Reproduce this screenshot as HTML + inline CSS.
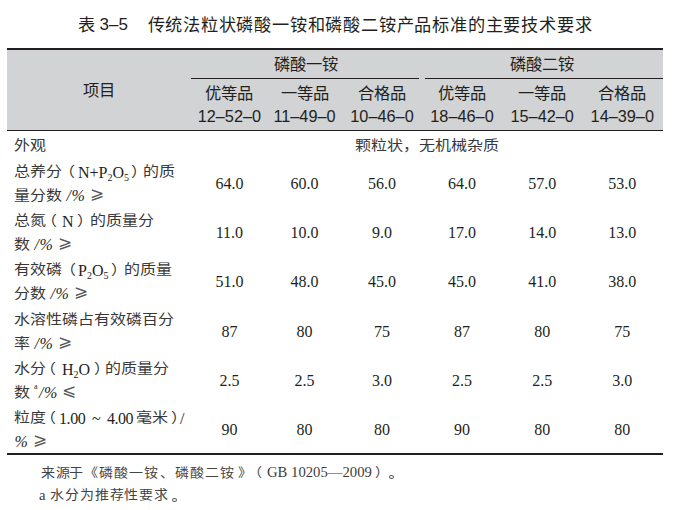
<!DOCTYPE html>
<html lang="zh-CN">
<head>
<meta charset="utf-8">
<style>
html,body{margin:0;padding:0;background:#fff;}
body{width:678px;height:510px;position:relative;overflow:hidden;color:#231f20;font-family:"Liberation Serif",serif;}
.a{position:absolute;white-space:nowrap;line-height:20px;}
.sans{font-family:"Liberation Sans",sans-serif;}
.c{text-align:center;}
.rule{position:absolute;background:#231f20;}
.hd{font-size:16.3px;}
.bd{font-size:16px;}
.it{font-style:italic;position:relative;top:-1px;left:0.5px;letter-spacing:0.5px;}
.k{color:#383838;display:inline-block;transform:translateY(-1px) scaleY(0.87);transform-origin:50% 30%;}
.ge{color:#555;font-size:17px;position:relative;top:-3px;margin-left:1px;}
.po{position:relative;left:-3.5px;}
.pc{position:relative;left:1.5px;margin-right:-2px;}
sub{font-size:10px;vertical-align:-3px;line-height:0;}
sup{font-size:8px;vertical-align:10px;line-height:0;margin-right:1px;}
.fn{color:#444;font-size:14px;letter-spacing:0.9px;transform:scaleY(0.9);transform-origin:0 60%;}
.fl{color:#3c3c3c;font-size:14.7px;}
.dot{position:absolute;width:3.4px;height:2.4px;border:0.8px solid #555;border-radius:50%;}
</style>
</head>
<body>

<div class="a sans" style="left:77.5px;top:10.5px;font-size:17.2px;line-height:28px;">表</div>
<div class="a sans" style="left:99.5px;top:10.5px;font-size:17px;line-height:28px;">3–5</div>
<div class="a sans" style="left:147.5px;top:10.5px;font-size:17.2px;letter-spacing:0.8px;line-height:28px;">传统法粒状磷酸一铵和磷酸二铵产品标准的主要技术要求</div>

<div style="position:absolute;left:7px;top:50px;width:656px;height:80px;background:#d1d3d4;"></div>
<div class="rule" style="left:7px;top:48px;width:656px;height:2px;"></div>
<div class="rule" style="left:191px;top:78px;width:228px;height:1px;"></div>
<div class="rule" style="left:425px;top:78px;width:238px;height:1px;"></div>
<div class="rule" style="left:7px;top:130px;width:656px;height:1px;"></div>
<div class="rule" style="left:7px;top:453px;width:656px;height:2px;"></div>

<div class="a sans hd c" style="left:7px;width:184px;top:80px;">项目</div>
<div class="a sans hd c" style="left:191px;width:228px;top:54px;padding-left:1px;">磷酸一铵</div>
<div class="a sans hd c" style="left:423px;width:238px;top:54px;">磷酸二铵</div>
<div class="a sans hd c" style="left:189.4px;width:80px;top:83px;">优等品</div>
<div class="a sans hd c" style="left:189.4px;width:80px;top:106px;">12–52–0</div>
<div class="a sans hd c" style="left:264.5px;width:80px;top:83px;">一等品</div>
<div class="a sans hd c" style="left:264.5px;width:80px;top:106px;">11–49–0</div>
<div class="a sans hd c" style="left:342.0px;width:80px;top:83px;">合格品</div>
<div class="a sans hd c" style="left:342.0px;width:80px;top:106px;">10–46–0</div>
<div class="a sans hd c" style="left:422.0px;width:80px;top:83px;">优等品</div>
<div class="a sans hd c" style="left:422.0px;width:80px;top:106px;">18–46–0</div>
<div class="a sans hd c" style="left:502.2px;width:80px;top:83px;">一等品</div>
<div class="a sans hd c" style="left:502.2px;width:80px;top:106px;">15–42–0</div>
<div class="a sans hd c" style="left:582.3px;width:80px;top:83px;">合格品</div>
<div class="a sans hd c" style="left:582.3px;width:80px;top:106px;">14–39–0</div>
<div class="a bd" style="left:14px;top:136.7px;"><span class="k">外观</span></div>
<div class="a bd c" style="left:191px;width:472px;top:137.0px;"><span class="k">颗粒状，无机械杂质</span></div>
<div class="a bd" style="left:14px;top:163.1px;"><span class="k">总养分</span><span class="k"><span style="position:relative;left:-3.5px;margin-right:0px">（</span></span>N+P<sub>2</sub>O<sub>5</sub><span class="k"><span style="position:relative;left:1.5px;margin-right:-2px">）</span></span><span class="k">的质</span></div>
<div class="a bd" style="left:14px;top:187.1px;"><span class="k">量分数</span> <span class="it">/%</span> <span class="ge">⩾</span></div>
<div class="a bd c" style="left:189.4px;width:80px;top:173.9px;">64.0</div>
<div class="a bd c" style="left:264.5px;width:80px;top:173.9px;">60.0</div>
<div class="a bd c" style="left:342.0px;width:80px;top:173.9px;">56.0</div>
<div class="a bd c" style="left:422.0px;width:80px;top:173.9px;">64.0</div>
<div class="a bd c" style="left:502.2px;width:80px;top:173.9px;">57.0</div>
<div class="a bd c" style="left:582.3px;width:80px;top:173.9px;">53.0</div>
<div class="a bd" style="left:14px;top:212.3px;"><span class="k">总氮</span><span class="k"><span style="position:relative;left:-5px;margin-right:0px">（</span></span>N<span class="k"><span style="position:relative;left:3.5px;margin-right:0px">）</span></span><span class="k">的质量分</span></div>
<div class="a bd" style="left:14px;top:236.3px;"><span class="k">数</span> <span class="it">/%</span> <span class="ge">⩾</span></div>
<div class="a bd c" style="left:189.4px;width:80px;top:223.1px;">11.0</div>
<div class="a bd c" style="left:264.5px;width:80px;top:223.1px;">10.0</div>
<div class="a bd c" style="left:342.0px;width:80px;top:223.1px;">9.0</div>
<div class="a bd c" style="left:422.0px;width:80px;top:223.1px;">17.0</div>
<div class="a bd c" style="left:502.2px;width:80px;top:223.1px;">14.0</div>
<div class="a bd c" style="left:582.3px;width:80px;top:223.1px;">13.0</div>
<div class="a bd" style="left:14px;top:261.4px;"><span class="k">有效磷</span><span class="k"><span style="position:relative;left:-2.5px;margin-right:0px">（</span></span>P<sub>2</sub>O<sub>5</sub><span class="k"><span style="position:relative;left:3px;margin-right:-0.5px">）</span></span><span class="k">的质量</span></div>
<div class="a bd" style="left:14px;top:285.4px;"><span class="k">分数</span> <span class="it">/%</span> <span class="ge">⩾</span></div>
<div class="a bd c" style="left:189.4px;width:80px;top:272.3px;">51.0</div>
<div class="a bd c" style="left:264.5px;width:80px;top:272.3px;">48.0</div>
<div class="a bd c" style="left:342.0px;width:80px;top:272.3px;">45.0</div>
<div class="a bd c" style="left:422.0px;width:80px;top:272.3px;">45.0</div>
<div class="a bd c" style="left:502.2px;width:80px;top:272.3px;">41.0</div>
<div class="a bd c" style="left:582.3px;width:80px;top:272.3px;">38.0</div>
<div class="a bd" style="left:14px;top:310.6px;"><span class="k">水溶性磷占有效磷百分</span></div>
<div class="a bd" style="left:14px;top:334.6px;"><span class="k">率</span> <span class="it">/%</span> <span class="ge">⩾</span></div>
<div class="a bd c" style="left:189.4px;width:80px;top:321.5px;">87</div>
<div class="a bd c" style="left:264.5px;width:80px;top:321.5px;">80</div>
<div class="a bd c" style="left:342.0px;width:80px;top:321.5px;">75</div>
<div class="a bd c" style="left:422.0px;width:80px;top:321.5px;">87</div>
<div class="a bd c" style="left:502.2px;width:80px;top:321.5px;">80</div>
<div class="a bd c" style="left:582.3px;width:80px;top:321.5px;">75</div>
<div class="a bd" style="left:14px;top:359.9px;"><span class="k">水分</span><span class="k"><span style="position:relative;left:-6px;margin-right:0px">（</span></span>H<sub>2</sub>O<span class="k"><span style="position:relative;left:3.5px;margin-right:-1px">）</span></span><span class="k">的质量分</span></div>
<div class="a bd" style="left:14px;top:383.9px;"><span class="k">数</span> <sup>a</sup><span class="it">/%</span> <span class="ge">⩽</span></div>
<div class="a bd c" style="left:189.4px;width:80px;top:370.7px;">2.5</div>
<div class="a bd c" style="left:264.5px;width:80px;top:370.7px;">2.5</div>
<div class="a bd c" style="left:342.0px;width:80px;top:370.7px;">3.0</div>
<div class="a bd c" style="left:422.0px;width:80px;top:370.7px;">2.5</div>
<div class="a bd c" style="left:502.2px;width:80px;top:370.7px;">2.5</div>
<div class="a bd c" style="left:582.3px;width:80px;top:370.7px;">3.0</div>
<div class="a bd" style="left:14px;top:409.0px;"><span class="k">粒度</span><span class="k"><span style="position:relative;left:-6.5px;margin-right:-3px">（</span></span><span style="letter-spacing:-0.4px">1.00</span> <span style="margin:0 2.5px 0 2.5px">~</span> <span style="letter-spacing:-0.5px">4.00</span><span style="margin-left:-1px"> </span><span class="k">毫米</span><span class="k"><span style="position:relative;left:2.5px;margin-right:-4px">）</span></span>/</div>
<div class="a bd" style="left:14px;top:433.0px;"><span class="it">%</span> <span class="ge">⩾</span></div>
<div class="a bd c" style="left:189.4px;width:80px;top:419.9px;">90</div>
<div class="a bd c" style="left:264.5px;width:80px;top:419.9px;">80</div>
<div class="a bd c" style="left:342.0px;width:80px;top:419.9px;">80</div>
<div class="a bd c" style="left:422.0px;width:80px;top:419.9px;">90</div>
<div class="a bd c" style="left:502.2px;width:80px;top:419.9px;">80</div>
<div class="a bd c" style="left:582.3px;width:80px;top:419.9px;">80</div>
<div class="a fn" style="left:41px;top:463px;">来源<span style="position:relative;left:-1.5px">于《磷酸一铵</span>、磷酸二铵<span style="position:relative;left:3px">》</span><span style="position:relative;left:5.5px">（</span></div>
<div class="a fl" style="left:267px;top:462px;">GB 10205—2009</div>
<div class="a fn" style="left:375px;top:463px;">）</div>
<div class="dot" style="left:389px;top:475px;"></div>
<div class="a fl" style="left:39px;top:484.5px;">a</div>
<div class="a fn" style="left:50px;top:485px;">水分为推荐性要求</div>
<div class="dot" style="left:172px;top:497.5px;"></div>
</body>
</html>
